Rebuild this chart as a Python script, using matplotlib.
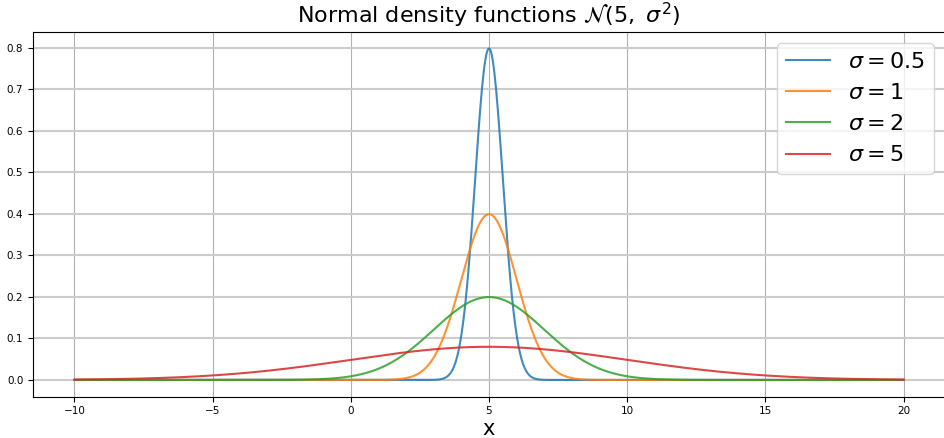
import numpy as np
import matplotlib
matplotlib.use("Agg")
import matplotlib.pyplot as plt

mu = 5
sigmas = [0.5, 1, 2, 5]
labels = [r"$\sigma = 0.5$", r"$\sigma = 1$", r"$\sigma = 2$", r"$\sigma = 5$"]
colors = ["#1f77b4", "#ff7f0e", "#2ca02c", "#d62728"]
x_min, x_max = -10, 20

x = np.linspace(x_min, x_max, 1000)

fig = plt.figure(figsize=(9.44, 4.38), dpi=100)
ax = fig.add_axes([33/944, 41.5/438, 912/944, 364.5/438])
for s, lab, c in zip(sigmas, labels, colors):
    y = np.exp(-0.5 * ((x - mu) / s) ** 2) / (s * np.sqrt(2 * np.pi))
    ax.plot(x, y, color=c, label=lab, lw=1.5, alpha=0.85)

ax.xaxis.grid(True, color="#b0b0b0", lw=0.8)
ax.yaxis.grid(True, color="#cccccc", lw=1.5)
ax.set_axisbelow(True)
ax.tick_params(labelsize=7.5)
ax.set_xlabel("x", fontsize=15, labelpad=2)
ax.set_title(r"Normal density functions $\mathcal{N}(5,\ \sigma^2)$", fontsize=16)
ax.legend(fontsize=16, loc="upper right")
fig.savefig("out.png", dpi=100)
